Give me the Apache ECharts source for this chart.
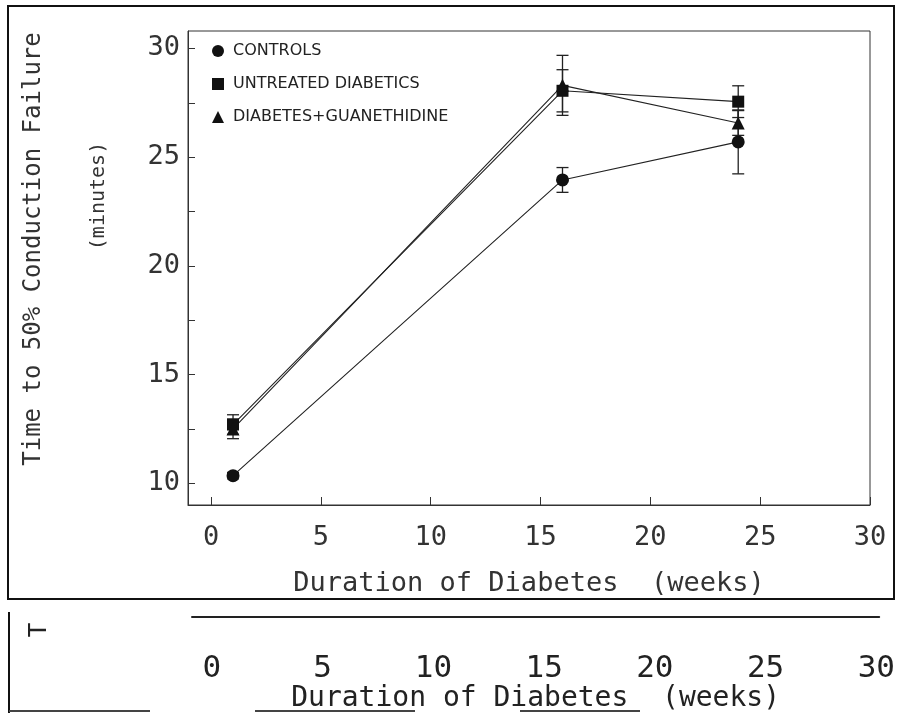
<!DOCTYPE html>
<html>
<head>
<meta charset="utf-8">
<title>Time to 50% Conduction Failure</title>
<script src="https://cdn.jsdelivr.net/npm/echarts@6.0.0/dist/echarts.min.js"></script>
<style>
  html, body { margin: 0; padding: 0; background: #fff; }
  #main { width: 898px; height: 713px; }
</style>
</head>
<body>
<div id="main"></div>
<script>
// data
var weeks = [1, 16, 24];
var controlsMean = [10.35, 23.95, 25.7];
var controlsErr = [0.15, 0.57, 1.47];
var untreatedMean = [12.7, 28.05, 27.55];
var untreatedErr = [0.45, 0.97, 0.73];
var guanMean = [12.5, 28.3, 26.57];
var guanErr = [0.45, 1.38, 0.57];

var xTicks = [0, 5, 10, 15, 20, 25, 30];
var yTicks = [10, 12.5, 15, 17.5, 20, 22.5, 25, 27.5, 30];
var yLabels = [10, 15, 20, 25, 30];

var ink = '#222';
var mono = '"DejaVu Sans Mono", "Liberation Mono", monospace';

var myChart = echarts.init(document.getElementById('main'));

function pairs(means) {
    return weeks.map(function (w, i) { return [w, means[i]]; });
}

// vertical error bar with caps
function errorBars(name, means, errs) {
    return {
        type: 'custom',
        name: name + ' err',
        silent: true,
        z: 1,
        data: weeks.map(function (w, i) { return [w, means[i] - errs[i], means[i] + errs[i]]; }),
        encode: { x: 0, y: [1, 2] },
        renderItem: function (params, api) {
            var lo = api.coord([api.value(0), api.value(1)]);
            var hi = api.coord([api.value(0), api.value(2)]);
            var hw = 6;
            var st = { stroke: ink, lineWidth: 1.3 };
            return {
                type: 'group',
                children: [
                    { type: 'line', shape: { x1: lo[0], y1: lo[1], x2: hi[0], y2: hi[1] }, style: st },
                    { type: 'line', shape: { x1: lo[0] - hw, y1: lo[1], x2: lo[0] + hw, y2: lo[1] }, style: st },
                    { type: 'line', shape: { x1: hi[0] - hw, y1: hi[1], x2: hi[0] + hw, y2: hi[1] }, style: st }
                ]
            };
        }
    };
}

function meanLine(name, means, symbol, size) {
    return {
        type: 'line',
        name: name,
        data: pairs(means),
        symbol: symbol,
        symbolSize: size,
        z: 3,
        lineStyle: { color: ink, width: 1.1 },
        itemStyle: { color: '#111' }
    };
}

var option = {
    animation: false,
    backgroundColor: '#fff',
    grid: [
        { left: 188, top: 31, right: 28, bottom: 208, show: true, borderColor: '#333', borderWidth: 1 },
        { left: 192, top: 616, right: 16, height: 1 }
    ],
    legend: {
        orient: 'vertical',
        left: 207,
        top: 38,
        itemWidth: 12,
        itemHeight: 12,
        itemGap: 17,
        textStyle: { fontFamily: '"DejaVu Sans", sans-serif', fontSize: 16, color: ink, padding: [0, 0, 0, 4] },
        data: [
            { name: 'CONTROLS', icon: 'circle' },
            { name: 'UNTREATED DIABETICS', icon: 'rect' },
            { name: 'DIABETES+GUANETHIDINE', icon: 'triangle' }
        ]
    },
    xAxis: [
        {
            type: 'value',
            gridIndex: 0,
            min: -1.05,
            max: 30,
            splitLine: { show: false },
            axisLine: { show: true, onZero: false, lineStyle: { color: '#333' } },
            axisTick: { show: true, inside: true, length: 8, customValues: xTicks, lineStyle: { color: '#333' } },
            axisLabel: { customValues: xTicks, margin: 19, fontFamily: mono, fontSize: 27, color: '#333' },
            name: 'Duration of Diabetes  (weeks)',
            nameLocation: 'middle',
            nameGap: 65,
            nameTextStyle: { fontFamily: mono, fontSize: 27, color: '#333' }
        },
        {
            type: 'value',
            gridIndex: 1,
            min: -0.9,
            max: 30.13,
            splitLine: { show: false },
            axisLine: { show: true, onZero: false, lineStyle: { color: '#222', width: 2 } },
            axisTick: { show: false },
            axisLabel: { customValues: xTicks, margin: 37, fontFamily: mono, fontSize: 31, color: '#222' },
            name: 'Duration of Diabetes  (weeks)',
            nameLocation: 'middle',
            nameGap: 65,
            nameTextStyle: { fontFamily: mono, fontSize: 28, color: '#222' }
        }
    ],
    yAxis: [
        {
            type: 'value',
            gridIndex: 0,
            min: 9,
            max: 30.8,
            splitLine: { show: false },
            axisLine: { show: true, onZero: false, lineStyle: { color: '#333' } },
            axisTick: { show: true, inside: true, length: 7, customValues: yTicks, lineStyle: { color: '#333' } },
            axisLabel: { customValues: yLabels, margin: 8, fontFamily: mono, fontSize: 27, color: '#333' }
        },
        {
            type: 'value',
            gridIndex: 1,
            show: false
        }
    ],
    graphic: [
        { type: 'rect', shape: { x: 8, y: 6, width: 886, height: 593 }, style: { fill: 'none', stroke: '#111', lineWidth: 2 } },
        { type: 'line', shape: { x1: 9, y1: 612, x2: 9, y2: 713 }, style: { stroke: '#111', lineWidth: 2 } },
        { type: 'line', shape: { x1: 9, y1: 711, x2: 150, y2: 711 }, style: { stroke: '#444', lineWidth: 2 } },
        { type: 'line', shape: { x1: 255, y1: 711, x2: 415, y2: 711 }, style: { stroke: '#444', lineWidth: 2 } },
        { type: 'line', shape: { x1: 520, y1: 711, x2: 640, y2: 711 }, style: { stroke: '#444', lineWidth: 2 } },
        { type: 'text', x: 40, y: 630, rotation: Math.PI / 2, style: { text: 'T', fontFamily: mono, fontSize: 24, fill: '#222', align: 'center', verticalAlign: 'middle' } },
        { type: 'text', x: 34, y: 249, rotation: Math.PI / 2, style: { text: 'Time to 50% Conduction Failure', fontFamily: mono, fontSize: 24, fill: '#333', align: 'center', verticalAlign: 'middle' } },
        { type: 'text', x: 99, y: 196, rotation: Math.PI / 2, style: { text: '(minutes)', fontFamily: mono, fontSize: 20, fill: '#333', align: 'center', verticalAlign: 'middle' } }
    ],
    series: [
        errorBars('CONTROLS', controlsMean, controlsErr),
        errorBars('UNTREATED DIABETICS', untreatedMean, untreatedErr),
        errorBars('DIABETES+GUANETHIDINE', guanMean, guanErr),
        meanLine('CONTROLS', controlsMean, 'circle', 13),
        meanLine('UNTREATED DIABETICS', untreatedMean, 'rect', 12),
        meanLine('DIABETES+GUANETHIDINE', guanMean, 'triangle', 13)
    ]
};

myChart.setOption(option);
</script>
</body>
</html>
